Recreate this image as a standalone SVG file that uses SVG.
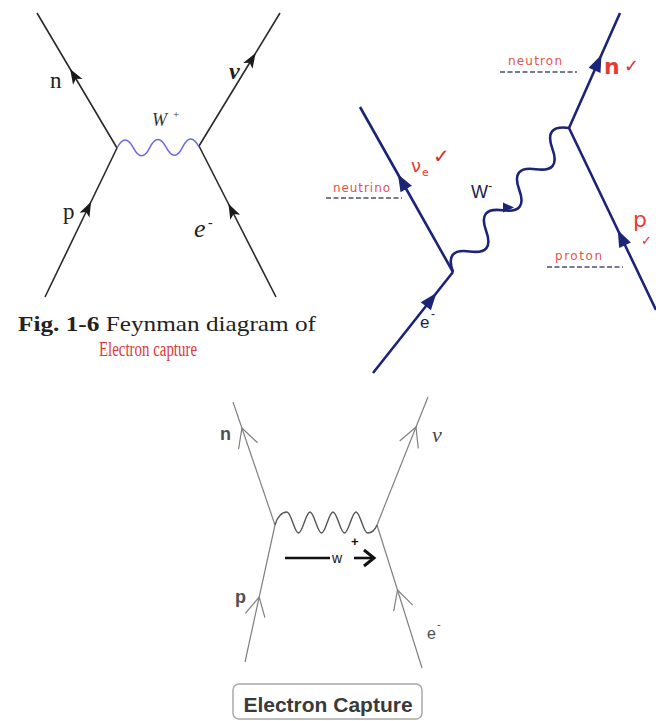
<svg xmlns="http://www.w3.org/2000/svg" width="656" height="721" viewBox="0 0 656 721">
<style>
.tl{fill:none;stroke:#2a2a2a;stroke-width:1.6}
.tr{fill:none;stroke:#1c2477;stroke-width:2.6}
.bt{fill:none;stroke:#808080;stroke-width:1.2}
.serif{font-family:"Liberation Serif","Times New Roman",serif}
.sans{font-family:"Liberation Sans",Arial,sans-serif}
.dv{font-family:"DejaVu Sans",sans-serif}
.red{fill:#e63b35}
.lbl{fill:#e4524c;font-family:"DejaVu Sans",sans-serif;font-size:12px}
.dash{stroke:#4a5070;stroke-width:1.6;stroke-dasharray:5 2.5}
.navy{fill:#1c1c50}
.gray{fill:#505050}
</style>
<defs>
<marker id="aTL" viewBox="-10 -10 20 20" markerWidth="20" markerHeight="20" refX="0" refY="0" markerUnits="userSpaceOnUse" orient="auto"><path d="M-8,-5.5 L7,0 L-8,5.5 L-4.5,0 Z" fill="#1a1a1a"/></marker>
<marker id="aTR" viewBox="-10 -10 20 20" markerWidth="20" markerHeight="20" refX="0" refY="0" markerUnits="userSpaceOnUse" orient="auto"><path d="M-8,-6.5 L9,0 L-8,6.5 Z" fill="#1c2477"/></marker>
<marker id="aBT" viewBox="-25 -15 30 30" markerWidth="30" markerHeight="30" refX="0" refY="0" markerUnits="userSpaceOnUse" orient="auto"><path d="M-19,-10 L0,0 L-19,10" fill="none" stroke="#808080" stroke-width="1.2"/></marker>
</defs>
<rect width="656" height="721" fill="#ffffff"/>

<g id="connectors">
  <!-- top-left diagram -->
  <path class="tl" d="M117,148 L73.7,75 L37,13" marker-mid="url(#aTL)"/>
  <path class="tl" d="M45,297 L88,208 L117,148" marker-mid="url(#aTL)"/>
  <path class="tl" d="M199,146 L252,59 L280,13" marker-mid="url(#aTL)"/>
  <path class="tl" d="M276,297 L231.6,210 L199,146" marker-mid="url(#aTL)"/>
  <path d="M0,0 Q8.2,-16 16.4,0 T32.8,0 T49.2,0 T65.6,0 T82,0" transform="translate(117,148) rotate(-0.7)" fill="none" stroke="#6b6be0" stroke-width="1.5"/>
  <!-- top-right diagram -->
  <path class="tr" d="M453,272 L402.3,182 L360,107" marker-mid="url(#aTR)"/>
  <path class="tr" d="M373,373 L430.8,300 L453,272" marker-mid="url(#aTR)"/>
  <path class="tr" d="M569,128 L597.8,63 L620,13" marker-mid="url(#aTR)"/>
  <path class="tr" d="M656,310 L621.6,238 L569,128" marker-mid="url(#aTR)"/>
  <path d="M0,0 Q13.2,-22 26.4,0 T52.8,0 T79.2,0 T105.6,0 T132,0 T158.4,0 T184.9,0" transform="translate(453,272) rotate(-51.15)" fill="none" stroke="#1c2477" stroke-width="2.6"/>
  <polygon points="503,202.5 514,207.5 503,212.5" fill="#1c2477"/>
  <line class="dash" x1="326" y1="198" x2="402" y2="198"/>
  <line class="dash" x1="500" y1="72" x2="577" y2="72"/>
  <line class="dash" x1="547" y1="267" x2="623" y2="267"/>
  <!-- bottom diagram -->
  <path class="bt" d="M275,525 L241.9,428 L233,402" marker-mid="url(#aBT)"/>
  <path class="bt" d="M245,662 L259.2,597 L275,525" marker-mid="url(#aBT)"/>
  <path class="bt" d="M377,525 L416,427 L428,397" marker-mid="url(#aBT)"/>
  <path class="bt" d="M422,668 L397.5,590 L377,525" marker-mid="url(#aBT)"/>
  <path d="M275,525 C277,517 282,512 287,512 C291.1,512 294.4,533 298.5,533 C302.6,533 305.9,512 310,512 C314.1,512 317.4,533 321.5,533 C325.6,533 328.9,512 333,512 C337.1,512 340.4,533 344.5,533 C348.6,533 351.9,512 356,512 C360.1,512 363.4,533 367.5,533 C371,533 375,530 377,525" fill="none" stroke="#555" stroke-width="1.4"/>
  <line x1="285" y1="558" x2="330" y2="558" stroke="#111" stroke-width="2.6"/>
  <line x1="354" y1="558" x2="373" y2="558" stroke="#111" stroke-width="2.6"/>
  <path d="M364,550 L374,558 L364,566" fill="none" stroke="#111" stroke-width="3"/>
</g>

<g id="tl-n"><text class="serif" x="50" y="88" font-size="23" fill="#222">n</text></g>
<g id="tl-nu"><text class="serif" x="229" y="79" font-size="24" font-weight="bold" font-style="italic" fill="#222">ν</text></g>
<g id="tl-w"><text class="serif" x="152" y="126" font-size="18" font-style="italic" fill="#333">W</text><text class="serif" x="173" y="118" font-size="11" fill="#333">+</text></g>
<g id="tl-p"><text class="serif" x="63" y="219" font-size="23" fill="#222">p</text></g>
<g id="tl-e"><text class="serif" x="194" y="237" font-size="26" font-style="italic" fill="#222">e</text><text class="serif" x="208" y="227" font-size="14" fill="#222">-</text></g>
<g id="tl-caption">
  <text class="serif" x="18" y="331" font-size="22" fill="#222" textLength="298" lengthAdjust="spacingAndGlyphs"><tspan font-weight="bold">Fig. 1-6</tspan> Feynman diagram of</text>
  <text class="serif" x="99" y="356" font-size="20" fill="#e0383a" textLength="98" lengthAdjust="spacingAndGlyphs">Electron capture</text>
</g>

<g id="tr-nue"><text class="dv red" x="411" y="172" font-size="18">ν</text><text class="dv red" x="422" y="176" font-size="11">e</text><text class="dv" x="433" y="163" font-size="20" font-weight="bold" fill="#d63030">✓</text></g>
<g id="tr-neutrino"><text class="lbl" x="333" y="192" textLength="57">neutrino</text></g>
<g id="tr-neutron"><text class="lbl" x="508" y="65" textLength="54">neutron</text></g>
<g id="tr-n"><text class="dv red" x="604" y="74" font-size="22" font-weight="bold">n</text><text class="dv" x="624" y="72" font-size="18" font-weight="bold" fill="#d63030">✓</text></g>
<g id="tr-proton"><text class="lbl" x="555" y="260" textLength="47">proton</text></g>
<g id="tr-p"><text class="dv red" x="633" y="227" font-size="22">p</text><text class="dv" x="641" y="245" font-size="13" font-weight="bold" fill="#d63030">✓</text></g>
<g id="tr-w"><text class="sans navy" x="471" y="198" font-size="18">W</text><text class="sans navy" x="488" y="190" font-size="13">-</text></g>
<g id="tr-e"><text class="sans navy" x="420" y="328" font-size="17">e</text><text class="sans navy" x="431" y="318" font-size="12">-</text></g>

<g id="bt-n"><text class="sans gray" x="220" y="440" font-size="18" font-weight="bold">n</text></g>
<g id="bt-nu"><text class="serif" x="432" y="442" font-size="22" font-style="italic" fill="#444">ν</text></g>
<g id="bt-p"><text class="sans gray" x="235" y="603" font-size="18" font-weight="bold">p</text></g>
<g id="bt-e"><text class="sans gray" x="427" y="639" font-size="16">e</text><text class="sans gray" x="437" y="628" font-size="11">-</text></g>
<g id="bt-w"><text class="sans" x="332" y="563" font-size="14" fill="#111">w</text><text class="sans" x="351" y="546" font-size="13" font-weight="bold" fill="#111">+</text></g>
<g id="bt-caption">
  <rect x="233" y="684" width="189" height="35" rx="6" fill="#fff" stroke="#a8a8a8" stroke-width="1.5"/>
  <text class="sans" x="328" y="712" font-size="21" font-weight="bold" fill="#3a3a3a" text-anchor="middle">Electron Capture</text>
</g>
</svg>
